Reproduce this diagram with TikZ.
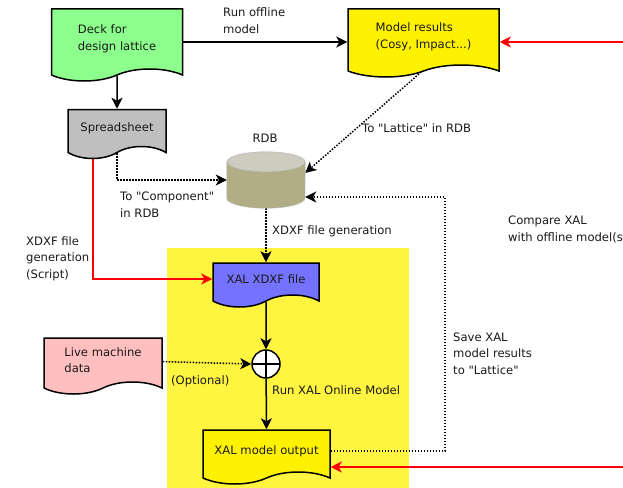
\documentclass[tikz,border=0pt]{standalone}
\usepackage{fontspec}
\setmainfont{DejaVu Sans}[Ligatures=TeXOff]
\usetikzlibrary{shapes.symbols,arrows.meta,calc,backgrounds}
\begin{document}
\begin{tikzpicture}[x=1pt,y=-1pt,font=\fontsize{11.6}{16.5}\selectfont]
 \tikzstyle{docu}=[shape=tape,tape bend top=none,tape bend bottom=in and out,tape bend height=12pt,draw,line width=1.5pt,text=black!90,inner sep=2pt,align=left]
 \tikzstyle{fleche}=[-{Stealth[length=11pt,width=11pt,inset=3pt]},line width=1.5pt]
 \tikzstyle{pointille}=[fleche,dash pattern=on 1.5pt off 1.5pt]
 \tikzstyle{rouge}=[fleche,red]
 \tikzstyle{etiq}=[anchor=base west,align=left,inner sep=0pt,text=black!90]
 \tikzstyle{base}=[draw=black!30,dash pattern=on 1.5pt off 1pt,line width=0.8pt]
 \useasboundingbox (0,0) rectangle (623,487);
 \clip (0,0) rectangle (623,487);
 % zone XAL
 \begin{scope}[on background layer]
  \fill[yellow!75] (167,248) rectangle (409,495);
 \end{scope}
 % documents
 \node[docu,fill=green!45,minimum width=131pt,minimum height=72pt] (deck) at (117,39) {Deck for\\design lattice};
 \node[docu,fill=yellow,minimum width=151pt,minimum height=68pt] (model) at (423.5,37) {Model results\\(Cosy, Impact...)};
 \node[docu,fill=black!25,minimum width=98pt,minimum height=49pt] (sheet) at (117,128) {Spreadsheet};
 \node[docu,fill=blue!55,minimum width=106pt,minimum height=44pt] (xdxf) at (266,279) {XAL XDXF file};
 \node[docu,fill=pink,minimum width=118pt,minimum height=56pt] (live) at (103,360) {Live machine\\data};
 \node[docu,fill=yellow,minimum width=127pt,minimum height=54pt] (xalout) at (266.5,451) {XAL model output};
 % RDB
 \node[minimum width=78pt,minimum height=56pt,inner sep=0pt] (rdb) at (266,180) {};
 \draw[base,fill=olive!35!gray!70] ($(rdb.north west)+(0,10)$) -- ($(rdb.south west)+(0,-10)$) arc[start angle=180,end angle=0,x radius=39,y radius=10] -- ($(rdb.north east)+(0,10)$);
 \draw[base,fill=olive!15!gray!45] ($(rdb.north)+(0,10)$) ellipse[x radius=39,y radius=10];
 \node[text=black!90] (rdbtxt) at (265,138) {RDB};
 \node[circle,draw,line width=1.5pt,fill=white,minimum size=28pt,inner sep=0pt,
   path picture={\draw[line width=1.2pt] (path picture bounding box.north) -- (path picture bounding box.south) (path picture bounding box.west) -- (path picture bounding box.east);}] (plus) at (266,364) {};
 \coordinate (bordA) at (630,42);
 \coordinate (bordB) at (630,467);
 \coordinate (coin) at (445,197);
 % liaisons
 \begin{scope}[on background layer]
  \draw[fleche] ($(deck.east)+(0,3)$) -- ($(model.west)+(0,5)$);
  \draw[fleche] (deck) -- (sheet.north);
  \draw[rouge] (bordA) -- ($(model.east)+(0,5)$);
  \draw[pointille] (sheet) |- (rdb.west);
  \draw[pointille] (model.south |- 0,70) -- ($(rdb.east)+(0,-7)$);
  \draw[rouge] ($(sheet.center)+(-24,0)$) |- (xdxf.west);
  \draw[pointille] (rdb) -- (xdxf.north);
  \draw[fleche] (xdxf) -- (plus.north);
  \draw[pointille] (live) -- (plus.west);
  \draw[fleche] (plus) -- (xalout.north);
  \draw[pointille] (xalout) -| (coin) -- (coin -| rdb.east);
  \draw[rouge] (bordB) -- (bordB -| xalout.east);
 \end{scope}
 % textes
 \node[etiq] (t1) at (223,33.5) {Run offline\\model};
 \node[etiq] (t2) at (120,217) {To "Component"\\in RDB};
 \node[etiq] (t3) at (362,132) {To "Lattice" in RDB};
 \node[etiq] (t4) at (272,234) {XDXF file generation};
 \node[etiq] (t5) at (26,278) {XDXF file\\generation\\(Script)};
 \node[etiq] (t6) at (453,374) {Save XAL\\model results\\to "Lattice"};
 \node[etiq] (t7) at (508,241) {Compare XAL\\with offline model(s)};
 \node[etiq] (t8) at (171,384) {(Optional)};
 \node[etiq] (t9) at (272,394) {Run XAL Online Model};
\end{tikzpicture}
\end{document}
